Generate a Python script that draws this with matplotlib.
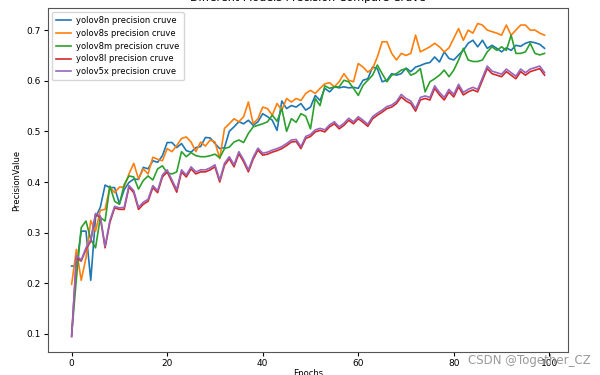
import numpy as np
import matplotlib
matplotlib.use("Agg")
import matplotlib.pyplot as plt

# precision per epoch
epochs = np.arange(100)

yolov8n = [0.234, 0.234, 0.303, 0.303, 0.206, 0.330, 0.350, 0.394, 0.389, 0.389,
           0.357, 0.385, 0.399, 0.406, 0.405, 0.429, 0.426, 0.442, 0.439, 0.452,
           0.478, 0.478, 0.468, 0.476, 0.462, 0.459, 0.468, 0.470, 0.488, 0.487,
           0.476, 0.466, 0.468, 0.500, 0.509, 0.519, 0.515, 0.522, 0.512, 0.519,
           0.535, 0.529, 0.522, 0.502, 0.560, 0.545, 0.551, 0.548, 0.555, 0.542,
           0.548, 0.571, 0.561, 0.585, 0.578, 0.588, 0.586, 0.588, 0.586, 0.587,
           0.585, 0.601, 0.604, 0.627, 0.624, 0.598, 0.601, 0.614, 0.611, 0.614,
           0.625, 0.618, 0.627, 0.630, 0.634, 0.636, 0.647, 0.637, 0.657, 0.644,
           0.641, 0.651, 0.660, 0.674, 0.680, 0.667, 0.680, 0.664, 0.670, 0.664,
           0.657, 0.665, 0.660, 0.670, 0.668, 0.674, 0.677, 0.675, 0.672, 0.664]

yolov8s = [0.198, 0.267, 0.206, 0.250, 0.324, 0.303, 0.344, 0.346, 0.390, 0.379,
           0.390, 0.390, 0.416, 0.437, 0.406, 0.426, 0.416, 0.449, 0.445, 0.442,
           0.466, 0.460, 0.472, 0.486, 0.489, 0.479, 0.460, 0.479, 0.471, 0.483,
           0.479, 0.446, 0.506, 0.515, 0.525, 0.519, 0.529, 0.558, 0.515, 0.525,
           0.548, 0.545, 0.532, 0.555, 0.542, 0.565, 0.558, 0.565, 0.561, 0.575,
           0.581, 0.575, 0.585, 0.594, 0.596, 0.588, 0.598, 0.614, 0.601, 0.598,
           0.634, 0.627, 0.617, 0.624, 0.647, 0.677, 0.677, 0.654, 0.641, 0.654,
           0.650, 0.654, 0.690, 0.657, 0.662, 0.667, 0.674, 0.667, 0.657, 0.665,
           0.684, 0.703, 0.680, 0.700, 0.694, 0.713, 0.710, 0.700, 0.697, 0.694,
           0.690, 0.710, 0.690, 0.700, 0.710, 0.710, 0.700, 0.700, 0.694, 0.690]

yolov8m = [0.099, 0.210, 0.310, 0.323, 0.287, 0.270, 0.330, 0.323, 0.392, 0.362,
           0.356, 0.395, 0.412, 0.410, 0.386, 0.403, 0.412, 0.404, 0.426, 0.432,
           0.418, 0.416, 0.420, 0.460, 0.450, 0.458, 0.452, 0.450, 0.450, 0.452,
           0.455, 0.448, 0.466, 0.469, 0.479, 0.483, 0.478, 0.496, 0.509, 0.512,
           0.515, 0.519, 0.532, 0.520, 0.545, 0.500, 0.525, 0.518, 0.535, 0.530,
           0.505, 0.565, 0.551, 0.590, 0.585, 0.588, 0.588, 0.601, 0.598, 0.585,
           0.571, 0.591, 0.601, 0.611, 0.631, 0.614, 0.598, 0.611, 0.614, 0.621,
           0.624, 0.611, 0.615, 0.624, 0.578, 0.598, 0.604, 0.611, 0.621, 0.608,
           0.621, 0.641, 0.664, 0.641, 0.638, 0.638, 0.641, 0.657, 0.667, 0.660,
           0.667, 0.660, 0.690, 0.654, 0.654, 0.657, 0.674, 0.654, 0.651, 0.654]

yolov8l = [0.095, 0.250, 0.244, 0.267, 0.283, 0.336, 0.330, 0.270, 0.320, 0.349,
           0.346, 0.346, 0.390, 0.379, 0.346, 0.356, 0.362, 0.389, 0.379, 0.410,
           0.420, 0.400, 0.380, 0.420, 0.410, 0.426, 0.416, 0.420, 0.420, 0.424,
           0.430, 0.400, 0.433, 0.446, 0.430, 0.456, 0.440, 0.420, 0.445, 0.463,
           0.453, 0.455, 0.459, 0.462, 0.466, 0.472, 0.479, 0.480, 0.466, 0.486,
           0.490, 0.499, 0.502, 0.499, 0.509, 0.515, 0.505, 0.512, 0.522, 0.515,
           0.525, 0.518, 0.510, 0.525, 0.532, 0.538, 0.545, 0.548, 0.555, 0.568,
           0.560, 0.555, 0.540, 0.562, 0.565, 0.562, 0.585, 0.572, 0.562, 0.578,
           0.568, 0.588, 0.572, 0.578, 0.582, 0.578, 0.601, 0.624, 0.614, 0.611,
           0.608, 0.618, 0.611, 0.604, 0.618, 0.611, 0.618, 0.621, 0.624, 0.611]

yolov5x = [0.095, 0.255, 0.246, 0.270, 0.286, 0.338, 0.333, 0.273, 0.324, 0.352,
           0.349, 0.350, 0.393, 0.383, 0.350, 0.360, 0.366, 0.393, 0.383, 0.414,
           0.424, 0.404, 0.385, 0.424, 0.414, 0.430, 0.420, 0.424, 0.424, 0.428,
           0.434, 0.404, 0.437, 0.450, 0.434, 0.460, 0.444, 0.424, 0.449, 0.467,
           0.457, 0.459, 0.463, 0.466, 0.470, 0.476, 0.483, 0.484, 0.470, 0.490,
           0.494, 0.503, 0.506, 0.503, 0.513, 0.519, 0.509, 0.516, 0.526, 0.519,
           0.529, 0.522, 0.514, 0.529, 0.536, 0.542, 0.549, 0.552, 0.559, 0.573,
           0.565, 0.560, 0.545, 0.567, 0.570, 0.567, 0.590, 0.577, 0.567, 0.583,
           0.573, 0.593, 0.577, 0.583, 0.587, 0.583, 0.606, 0.629, 0.619, 0.616,
           0.613, 0.623, 0.616, 0.609, 0.623, 0.616, 0.623, 0.626, 0.629, 0.616]

series = [("yolov8n precision cruve", yolov8n),
          ("yolov8s precision cruve", yolov8s),
          ("yolov8m precision cruve", yolov8m),
          ("yolov8l precision cruve", yolov8l),
          ("yolov5x precision cruve", yolov5x)]

fig = plt.figure(figsize=(6, 3.75), dpi=100)
ax = fig.add_axes([0.08, 0.061, 0.867, 0.918])

for name, vals in series:
    ax.plot(epochs, vals, lw=1.2, label=name)

# title sits partly off the top edge, as in the reference screenshot
ax.set_title("Different Models Precision Compare Cruve", fontsize=8, pad=5)
ax.set_xlabel("Epochs", fontsize=6, labelpad=0.5)
ax.set_ylabel("PrecisionValue", fontsize=6, labelpad=4)
ax.tick_params(labelsize=6.5, length=3, pad=2)
ax.legend(loc="upper left", fontsize=6, handlelength=1.7, borderpad=0.5,
          labelspacing=0.45, handletextpad=0.7)

for s in ax.spines.values():
    s.set_color("#555555")

fig.text(0.985, 0.022, "CSDN @Together_CZ", ha="right", va="bottom",
         fontsize=8.5, color="#9a9a9a")

fig.savefig("out.png", dpi=100)
